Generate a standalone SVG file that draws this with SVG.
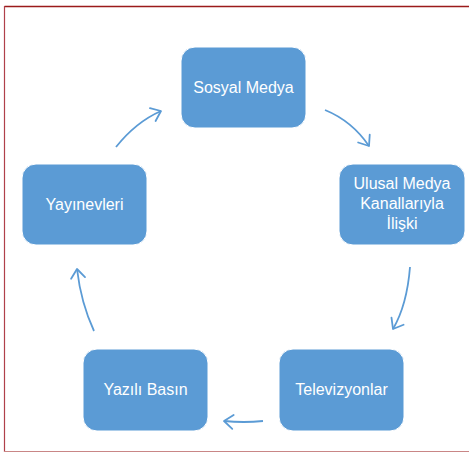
<svg xmlns="http://www.w3.org/2000/svg" width="469" height="453" viewBox="0 0 469 453">
<style>
.box{fill:#5B9BD5;stroke:#FFFFFF;stroke-width:1}
.lbl{font-family:"Liberation Sans","Open Sans",sans-serif;font-size:16px;fill:#FFFFFF;text-anchor:middle}
.con{fill:none;stroke:#5B9BD5;stroke-width:1.8;marker-end:url(#ah)}
</style>
<defs>
<marker id="ah" markerUnits="userSpaceOnUse" markerWidth="24" markerHeight="24" viewBox="-12 -12 24 24" refX="0" refY="0" orient="auto">
<path d="M-9,-7 L0,0 L-9,7" fill="none" stroke="#5B9BD5" stroke-width="1.8" stroke-linecap="round" stroke-linejoin="round"/>
</marker>
</defs>
<rect width="469" height="453" fill="#FFFFFF"/>
<g id="frame">
<line x1="4.5" y1="6.5" x2="469" y2="6.5" stroke="#9B1B1B" stroke-width="1.5"/>
<line x1="4.5" y1="6" x2="4.5" y2="452" stroke="#B0404A" stroke-width="1.2"/>
<line x1="4" y1="451.5" x2="469" y2="451.5" stroke="#C98686" stroke-width="1.2"/>
</g>
<g id="connectors">
<path class="con" d="M325,110 Q352,121 369,146"/>
<path class="con" d="M410,267 Q407,305 393,329"/>
<path class="con" d="M263,421 Q244,423 224,421"/>
<path class="con" d="M94,331 Q81,303 77,269"/>
<path class="con" d="M116,147 Q136,122 161,111"/>
</g>
<g id="sosyal">
<rect class="box" x="181" y="47" width="125" height="81" rx="14"/>
<text class="lbl" x="243.5" y="93">Sosyal Medya</text>
</g>
<g id="ulusal">
<rect class="box" x="339" y="164" width="126" height="81" rx="14"/>
<text class="lbl" x="402" y="189">Ulusal Medya</text>
<text class="lbl" x="402" y="209">Kanallarıyla</text>
<text class="lbl" x="402" y="229">İlişki</text>
</g>
<g id="televizyonlar">
<rect class="box" x="279" y="349" width="125" height="82" rx="14"/>
<text class="lbl" x="341.5" y="395">Televizyonlar</text>
</g>
<g id="yazili">
<rect class="box" x="83" y="349" width="125" height="82" rx="14"/>
<text class="lbl" x="145.5" y="395">Yazılı Basın</text>
</g>
<g id="yayinevleri">
<rect class="box" x="22" y="164" width="125" height="81" rx="14"/>
<text class="lbl" x="84.5" y="210">Yayınevleri</text>
</g>
</svg>
